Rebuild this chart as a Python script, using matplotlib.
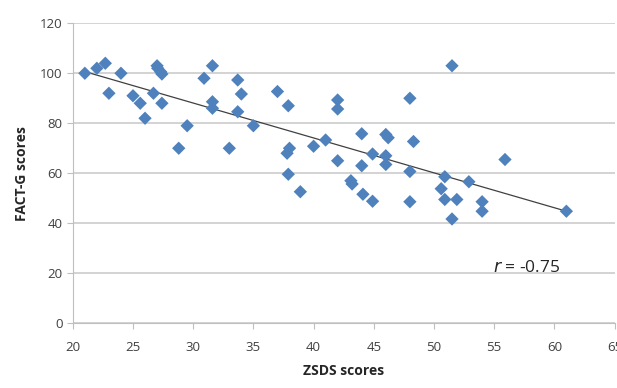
import numpy as np
import matplotlib
matplotlib.use("Agg")
import matplotlib.pyplot as plt

# ZSDS vs FACT-G scores
zsds = [21, 22, 22.7, 23, 24, 25, 25.6, 26, 26.7, 27, 27.05, 27.3, 27.4, 27.4,
        28.8, 29.5, 30.9, 31.6, 31.6, 31.6, 33, 33.7, 34, 33.7, 35, 37, 37.9,
        38, 37.8, 37.9, 38.9, 40, 41, 42, 42, 42, 43.1, 43.2, 44, 44, 44.1,
        44.9, 44.9, 46, 46.2, 46, 46, 48, 48.3, 48, 55.9, 50.9, 52.9, 50.6,
        50.9, 51.9, 48, 54, 54, 51.5, 51.5, 61]
factg = [100, 102, 104, 92, 100, 91, 88, 82, 92, 103, 102, 100.6, 99.7, 88,
         70, 79, 98, 103, 88.6, 86, 70, 97.3, 91.7, 84.6, 79, 92.7, 87,
         70, 68, 59.6, 52.6, 70.8, 73.3, 89.3, 85.7, 65, 57, 55.7, 75.8, 63, 51.6,
         48.8, 67.7, 75.5, 74.2, 67, 63.5, 90, 72.7, 60.7, 65.5, 58.6, 56.6, 53.8,
         49.5, 49.5, 48.6, 48.6, 44.8, 103, 41.7, 44.8]

x_ticks = [20, 25, 30, 35, 40, 45, 50, 55, 60, 65]
y_ticks = [0, 20, 40, 60, 80, 100, 120]
r_label = "-0.75"

plt.rcParams['font.family'] = ['Open Sans', 'DejaVu Sans']

fig = plt.figure(figsize=(6.17, 3.88), dpi=100)
ax = fig.add_axes([0.118, 0.167, 0.878, 0.773])

x = np.array(zsds)
y = np.array(factg)

# linear trend line across the data range
slope, intercept = np.polyfit(x, y, 1)
xs = np.array([x.min(), x.max()])
ax.plot(xs, slope * xs + intercept, color="#404040", lw=0.9, zorder=2)

ax.scatter(x, y, marker="D", s=46, color="#4F81BD", edgecolors="none", zorder=3)

ax.set_xlim(20, 65)
ax.set_ylim(0, 120)
ax.set_xticks(x_ticks)
ax.set_yticks(y_ticks)
ax.yaxis.grid(True, color="#C8C8C8", lw=1.1)
ax.set_axisbelow(True)

for s in ["top", "right"]:
    ax.spines[s].set_visible(False)
for s in ["left", "bottom"]:
    ax.spines[s].set_color("#BFBFBF")
ax.tick_params(colors="#BFBFBF", labelcolor="#404040", labelsize=9.5, length=4)
ax.tick_params(axis="x", pad=9)

ax.set_xlabel("ZSDS scores", fontsize=10, fontweight="bold", color="#262626", labelpad=7)
ax.set_ylabel("FACT-G scores", fontsize=10, fontweight="bold", color="#262626", labelpad=8)

ax.text(54.9, 22, "$r$ = " + r_label, fontsize=12.5, color="#262626", va="center")

fig.savefig("out.png", dpi=100)
